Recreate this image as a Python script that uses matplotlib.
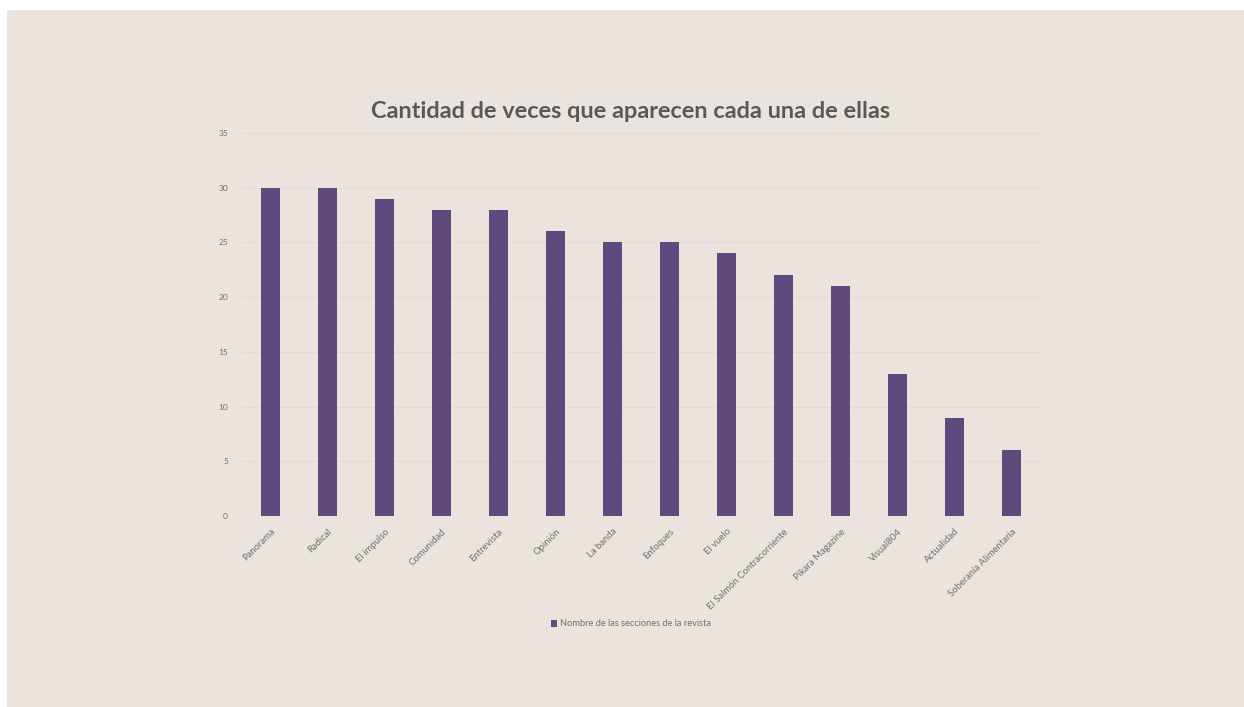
import matplotlib.pyplot as plt
from matplotlib.patches import Rectangle

# Section names and how many times each one appears
secciones = ["Panorama", "Radical", "El impulso", "Comunidad", "Entrevista",
             "Opinión", "La banda", "Enfoques", "El vuelo",
             "El Salmón Contracorriente", "Pikara Magazine", "Visual804",
             "Actualidad", "Soberanía Alimentaria"]
apariciones = [30, 30, 29, 28, 28, 26, 25, 25, 24, 22, 21, 13, 9, 6]
yticks = [0, 5, 10, 15, 20, 25, 30, 35]

W, H = 1244, 707
fondo = "#ebe4de"
morado = "#5e4a7d"
gris = "#707070"

fig = plt.figure(figsize=(W / 100, H / 100), dpi=100, facecolor="white")
fig.patches.append(Rectangle((7 / W, 0), 1, 1 - 10 / H, transform=fig.transFigure,
                             facecolor=fondo, edgecolor="none", zorder=-10))

ax = fig.add_axes([242 / W, 1 - 516 / H, (1040 - 242) / W, (516 - 133) / H])
ax.set_facecolor("none")

x = range(len(secciones))
ax.bar(x, apariciones, width=0.32, color=morado, zorder=3,
       label="Nombre de las secciones de la revista")

ax.set_xlim(-0.5, len(secciones) - 0.5)
ax.set_ylim(0, 35)
ax.set_yticks(yticks)
ax.set_yticklabels([str(v) for v in yticks], fontsize=6, color=gris, family="Lato")
ax.yaxis.grid(True, color="#e3dbd5", linewidth=0.8, zorder=0)
ax.set_axisbelow(True)
ax.set_xticks(list(x))
ax.set_xticklabels(secciones, rotation=45, ha="right", rotation_mode="anchor",
                   fontsize=6.8, color=gris, family="Lato")
ax.tick_params(length=0, pad=8)
ax.tick_params(axis="y", pad=10)
for s in ax.spines.values():
    s.set_visible(False)

fig.text(631 / W, 1 - 111 / H, "Cantidad de veces que aparecen cada una de ellas",
         ha="center", va="center", fontsize=16.9, fontweight="bold",
         color="#595959", family="Lato")

leg = fig.legend(loc="center", bbox_to_anchor=(631 / W, 1 - 624 / H), frameon=False,
                 handlelength=0.7, handleheight=0.7, handletextpad=0.3,
                 prop={"family": "Lato", "size": 6.7})
for t in leg.get_texts():
    t.set_color(gris)

fig.savefig("out.png", dpi=100, facecolor="white")
